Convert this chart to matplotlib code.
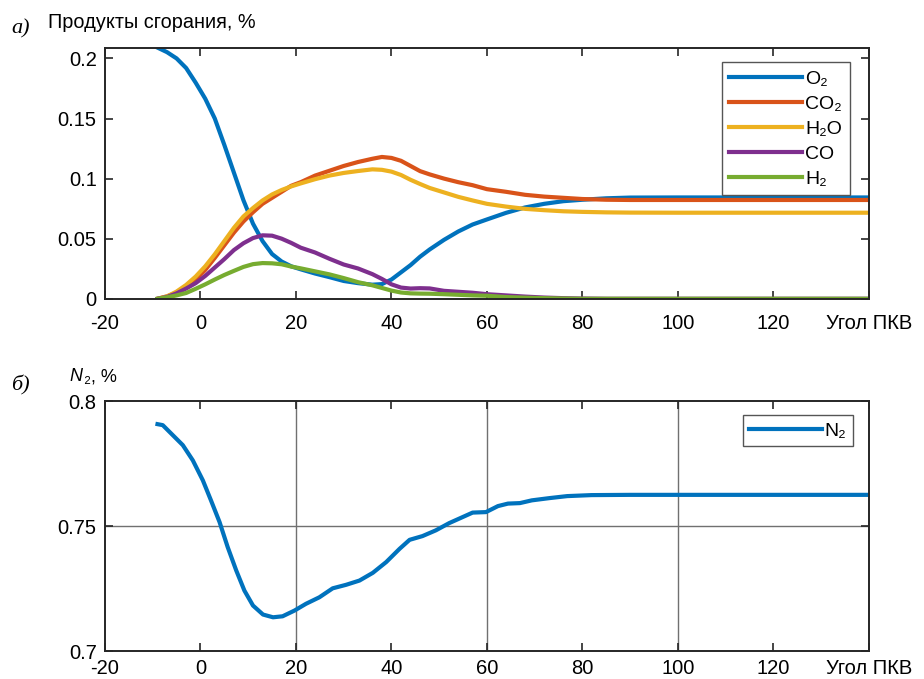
import matplotlib.pyplot as plt

# Crank angle (deg) for the combustion products
angle = [-9, -7, -5, -3, -1, 1, 3, 5, 7, 9, 11, 13, 15, 17, 19, 21, 24, 27, 30, 33, 36, 38,
         40, 42, 44, 46, 48, 51, 54, 57, 60, 64, 68, 72, 76, 80, 85, 90, 100, 120, 140]

o2 = [0.209, 0.2052, 0.200, 0.192, 0.1798, 0.1665, 0.150, 0.128, 0.105, 0.082, 0.0625,
      0.048, 0.0372, 0.031, 0.027, 0.0245, 0.021, 0.018, 0.0148, 0.013, 0.0117, 0.0122,
      0.016, 0.022, 0.028, 0.035, 0.041, 0.049, 0.056, 0.0618, 0.066, 0.0715, 0.076, 0.079,
      0.0812, 0.0824, 0.0836, 0.0842, 0.0843, 0.0843, 0.0843]
co2 = [0.0, 0.002, 0.005, 0.0095, 0.016, 0.024, 0.034, 0.0445, 0.055, 0.0643, 0.072, 0.079,
       0.084, 0.089, 0.094, 0.097, 0.1025, 0.1065, 0.1105, 0.1138, 0.1165, 0.118, 0.1172,
       0.1148, 0.1105, 0.1062, 0.1035, 0.100, 0.097, 0.0945, 0.0912, 0.089, 0.0865, 0.085,
       0.084, 0.083, 0.0824, 0.0822, 0.0822, 0.0822, 0.0822]
h2o = [0.0, 0.002, 0.006, 0.0115, 0.0185, 0.027, 0.037, 0.048, 0.059, 0.0685, 0.0755,
       0.0818, 0.0868, 0.0905, 0.0935, 0.096, 0.0995, 0.1025, 0.1047, 0.1063, 0.1077, 0.1073,
       0.1058, 0.103, 0.099, 0.0955, 0.0922, 0.0885, 0.0848, 0.0818, 0.079, 0.0767, 0.0748,
       0.0737, 0.0728, 0.0723, 0.0719, 0.0717, 0.0716, 0.0716, 0.0716]
co = [0.0, 0.0015, 0.0045, 0.0085, 0.013, 0.019, 0.026, 0.033, 0.0405, 0.0462, 0.0505,
      0.0528, 0.0525, 0.050, 0.0465, 0.0425, 0.0385, 0.0333, 0.0285, 0.0252, 0.0205, 0.0165,
      0.012, 0.0093, 0.0085, 0.0088, 0.0086, 0.0066, 0.0058, 0.005, 0.0038, 0.0028, 0.0018,
      0.001, 0.0005, 0.0002, 0.0, 0.0, 0.0, 0.0, 0.0]
h2 = [0.0, 0.0012, 0.0028, 0.0048, 0.0083, 0.012, 0.016, 0.0198, 0.0232, 0.0265, 0.0288,
      0.0297, 0.0295, 0.0287, 0.0268, 0.0253, 0.0228, 0.0203, 0.0172, 0.0138, 0.0112, 0.009,
      0.0068, 0.0052, 0.0045, 0.0043, 0.0042, 0.0038, 0.0033, 0.0028, 0.0025, 0.0014, 0.0009,
      0.0005, 0.0002, 0.0, 0.0, 0.0, 0.0, 0.0, 0.0]

# Nitrogen
n2_angle = [-9, -7.9, -5.8, -3.7, -1.6, 0.5, 2.2, 4.0, 5.7, 7.5, 9.2, 11.0, 13.1, 15.2, 17.2,
            19.7, 22.1, 24.9, 27.7, 30.5, 33.3, 36.1, 38.9, 41.7, 43.8, 46.5, 49.3, 52.1,
            54.9, 57.0, 59.8, 62.3, 64.4, 66.9, 69.4, 73.1, 76.8, 81.9, 90, 100, 120, 140]
n2 = [0.7908, 0.7904, 0.7864, 0.7824, 0.7763, 0.7683, 0.7603, 0.7516, 0.7416, 0.7322,
      0.7242, 0.7182, 0.7146, 0.7135, 0.7139, 0.7162, 0.7189, 0.7215, 0.7251, 0.7265, 0.7282,
      0.7313, 0.7356, 0.7409, 0.7445, 0.746, 0.7483, 0.7512, 0.7536, 0.7554, 0.7556, 0.758,
      0.759, 0.7592, 0.7603, 0.7612, 0.762, 0.7624, 0.7625, 0.7625, 0.7625, 0.7625]

xticks = [-20, 0, 20, 40, 60, 80, 100, 120, 140]
xticklabels = ['-20', '0', '20', '40', '60', '80', '100', '120', 'Угол ПКВ']

plt.rcParams['font.family'] = ['Liberation Sans', 'DejaVu Sans']
plt.rcParams['font.size'] = 14.5

colors = ['#0072BD', '#D95319', '#EDB120', '#7E2F8E', '#77AC30']
dark = '#262626'

fig = plt.figure(figsize=(9.24, 6.79), dpi=100)
ax1 = fig.add_axes([0.1136, 0.560, 0.8268, 0.369])
ax2 = fig.add_axes([0.1136, 0.0412, 0.8268, 0.368])


def style_axes(ax, xpad):
    ax.set_xlim(-20, 140)
    ax.set_xticks(xticks)
    ax.set_xticklabels(xticklabels)
    ax.tick_params(direction='in', length=5.5, width=1.2, top=True, right=True,
                   colors=dark, labelcolor='black', labelsize=14.5)
    ax.tick_params(axis='x', pad=xpad)
    ax.tick_params(axis='y', pad=6)
    for s in ax.spines.values():
        s.set_color(dark)
        s.set_linewidth(1.4)


# Top plot: combustion products
series = [o2, co2, h2o, co, h2]
names = ['O\u2082', 'CO\u2082', 'H\u2082O', 'CO', 'H\u2082']
for vals, name, c in zip(series, names, colors):
    ax1.plot(angle, vals, color=c, lw=3, label=name)
style_axes(ax1, 11)
ax1.set_ylim(0, 0.2085)
ax1.set_yticks([0, 0.05, 0.1, 0.15, 0.2])
ax1.set_yticklabels(['0', '0.05', '0.1', '0.15', '0.2'])
leg1 = ax1.legend(loc='upper right', bbox_to_anchor=(0.975, 0.944), borderaxespad=0,
                  handlelength=3.75, handletextpad=0.15, labelspacing=0.38, fontsize=14,
                  fancybox=False, framealpha=1, edgecolor='#555555', borderpad=0.4)
leg1.get_frame().set_linewidth(1.0)

# Bottom plot: nitrogen
for gx in [20, 60, 100]:
    ax2.axvline(gx, color='#707070', lw=1.0, zorder=0)
ax2.axhline(0.75, color='#707070', lw=1.0, zorder=0)
ax2.plot(n2_angle, n2, color=colors[0], lw=3, label='N\u2082')
style_axes(ax2, 6)
ax2.set_ylim(0.7, 0.8)
ax2.set_yticks([0.7, 0.75, 0.8])
ax2.set_yticklabels(['0.7', '0.75', '0.8'])
leg2 = ax2.legend(loc='upper right', bbox_to_anchor=(0.979, 0.944), borderaxespad=0,
                  handlelength=3.75, handletextpad=0.1, fontsize=14,
                  fancybox=False, framealpha=1, edgecolor='#555555', borderpad=0.35)
leg2.get_frame().set_linewidth(1.0)

# Panel labels and axis captions
fig.text(0.052, 0.967, 'Продукты сгорания, %', fontsize=14.3, va='center')
fig.text(0.012, 0.958, 'а)', fontsize=16, style='italic', family='Liberation Serif', va='center')
fig.text(0.075, 0.445, 'N', fontsize=13, style='italic', va='center')
fig.text(0.091, 0.445, '\u2082, %', fontsize=13, va='center')
fig.text(0.012, 0.432, 'б)', fontsize=16, style='italic', family='Liberation Serif', va='center')

plt.savefig('out.png', dpi=100)
